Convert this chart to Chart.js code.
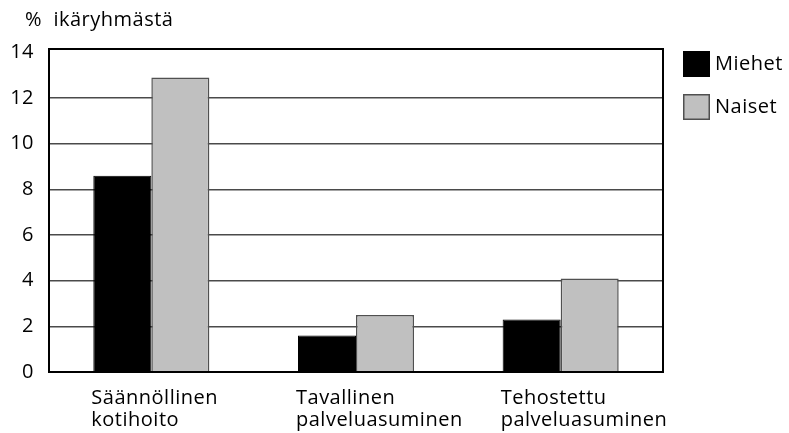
<!DOCTYPE html>
<html lang="fi">
<head>
<meta charset="utf-8">
<title>Kotihoito ja palveluasuminen</title>
<script src="https://cdn.jsdelivr.net/npm/chart.js@4"></script>
<style>
  html, body { margin: 0; padding: 0; background: #ffffff; }
  #wrap { position: relative; width: 789px; height: 433px; }
</style>
</head>
<body>
<div id="wrap"><canvas id="chart" width="789" height="433"></canvas></div>
<script>
// Category labels (two lines each)
const categories = [
  ['Säännöllinen', 'kotihoito'],
  ['Tavallinen', 'palveluasuminen'],
  ['Tehostettu', 'palveluasuminen']
];
// Share of the age group, %
const miehet = [8.6, 1.6, 2.3];
const naiset = [12.9, 2.5, 4.1];
const seriesNames = ['Miehet', 'Naiset'];
const yTicks = [0, 2, 4, 6, 8, 10, 12, 14];
const unitLabel = '%  ikäryhmästä';

const FONT_FAMILY = '"Open Sans", "Noto Sans", "DejaVu Sans", sans-serif';
const FONT_SIZE = 20;
const FONT_WEIGHT = 500;
const SPACING = '0.5px';
const TEXT_COLOR = '#000';

// letter spacing applied to the whole canvas
const spacingPlugin = {
  id: 'spacing',
  beforeUpdate(chart) { chart.ctx.letterSpacing = SPACING; },
  beforeDraw(chart) { chart.ctx.letterSpacing = SPACING; }
};

// frame around the plot, unit label and legend on the right
const decorPlugin = {
  id: 'decor',
  afterDatasetsDraw(chart) {
    const { ctx, chartArea: a } = chart;
    ctx.save();
    ctx.strokeStyle = '#000';
    ctx.lineWidth = 2;
    ctx.strokeRect(a.left, a.top, a.right - a.left, a.bottom - a.top);
    ctx.restore();
  },
  afterDraw(chart) {
    const { ctx, chartArea: a } = chart;
    ctx.save();
    ctx.letterSpacing = SPACING;
    ctx.font = FONT_WEIGHT + ' ' + FONT_SIZE + 'px ' + FONT_FAMILY;
    ctx.fillStyle = TEXT_COLOR;
    ctx.textBaseline = 'middle';
    ctx.textAlign = 'left';
    ctx.fillText(unitLabel, 25, 20);

    chart.data.datasets.forEach((ds, i) => {
      const bx = a.right + 20;
      const by = a.top + 2 + i * 43;
      ctx.fillStyle = ds.backgroundColor;
      ctx.fillRect(bx, by, 27, 26);
      ctx.strokeStyle = ds.borderColor;
      ctx.lineWidth = 1.5;
      ctx.strokeRect(bx + 0.75, by + 0.75, 25.5, 24.5);
      ctx.fillStyle = TEXT_COLOR;
      ctx.fillText(ds.label, bx + 32, by + 13);
    });
    ctx.restore();
  }
};

new Chart(document.getElementById('chart'), {
  type: 'bar',
  data: {
    labels: categories,
    datasets: [
      {
        label: seriesNames[0],
        data: miehet,
        backgroundColor: '#000000',
        borderColor: '#000000',
        borderWidth: 1
      },
      {
        label: seriesNames[1],
        data: naiset,
        backgroundColor: '#c0c0c0',
        borderColor: '#505050',
        borderWidth: 1.5
      }
    ]
  },
  options: {
    responsive: false,
    animation: false,
    devicePixelRatio: 1,
    layout: { padding: { left: 11, right: 126, top: 49, bottom: 0 } },
    datasets: {
      bar: { barPercentage: 1.0, categoryPercentage: 0.567 }
    },
    plugins: {
      legend: { display: false },
      title: { display: false },
      tooltip: { enabled: false }
    },
    scales: {
      x: {
        grid: { display: false, drawTicks: false },
        border: { display: true, color: '#000', width: 2 },
        ticks: {
          color: TEXT_COLOR,
          font: { family: FONT_FAMILY, size: FONT_SIZE, weight: FONT_WEIGHT, lineHeight: 1.1 },
          align: 'start',
          labelOffset: -60,
          padding: 15,
          maxRotation: 0,
          autoSkip: false
        },
        afterFit(scale) { scale.height = 61; }
      },
      y: {
        min: 0,
        max: 14.15,
        grid: {
          drawTicks: false,
          color: (c) => (c.tick && c.tick.value === 14 ? 'rgba(0,0,0,0)' : '#4a4a4a'),
          lineWidth: 1.5
        },
        border: { display: true, color: '#000', width: 2 },
        afterBuildTicks(scale) { scale.ticks = yTicks.map(v => ({ value: v })); },
        ticks: {
          color: TEXT_COLOR,
          font: { family: FONT_FAMILY, size: FONT_SIZE, weight: FONT_WEIGHT },
          padding: 15,
          includeBounds: false
        },
        afterFit(scale) { scale.width = 38; }
      }
    }
  },
  plugins: [spacingPlugin, decorPlugin]
});
</script>
</body>
</html>
